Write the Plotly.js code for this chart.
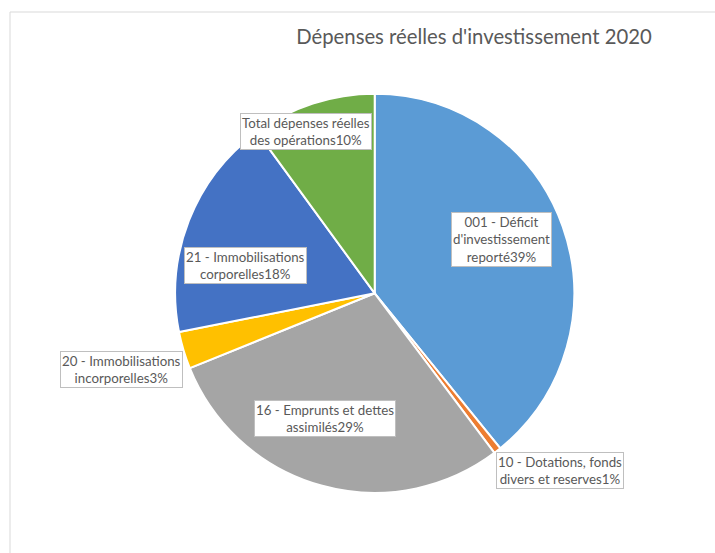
<!DOCTYPE html>
<html>
<head>
<meta charset="utf-8">
<script src="https://cdn.plot.ly/plotly-3.0.1.min.js"></script>
<style>html,body{margin:0;padding:0;background:#fff}#chart{width:715px;height:553px}</style>
</head>
<body>
<div id="chart"></div>
<script>
// ---- data ----
const categories = [
  "001 - Déficit d'investissement reporté",
  "10 - Dotations, fonds divers et reserves",
  "16 - Emprunts et dettes assimilés",
  "20 - Immobilisations incorporelles",
  "21 - Immobilisations corporelles",
  "Total dépenses réelles des opérations"
];
const values = [39, 0.6, 29, 3, 18, 10];
// wrapped label text as shown in the chart
const labelLines = [
  "001 - Déficit<br>d'investissement<br>reporté",
  "10 - Dotations, fonds<br>divers et reserves",
  "16 - Emprunts et dettes<br>assimilés",
  "20 - Immobilisations<br>incorporelles",
  "21 - Immobilisations<br>corporelles",
  "Total dépenses réelles<br>des opérations"
];

// ---- styles ----
const colors = ["#5B9BD5", "#ED7D31", "#A5A5A5", "#FFC000", "#4472C4", "#70AD47"];
const W = 715, H = 553;
const cx = 374.7, cy = 293.3, R = 199.5;
// label placement: [radius in px, xshift px, yshift px]
const labelPlace = [
  [135, 0, -9],
  [230, 44, -4],
  [130, -15, 0],
  [264, 0, 1],
  [138, -1, 22],
  [170, -16, 0]
];
const font = "Lato, 'Open Sans', sans-serif";
const textColor = "#595959";

const total = values.reduce((a, b) => a + b, 0);
let cum = 0;
const annotations = values.map((v, i) => {
  const mid = (cum + v / 2) / total * 2 * Math.PI;
  cum += v;
  const [r, sx, sy] = labelPlace[i];
  const px = cx + r * Math.sin(mid) + sx;
  const py = cy - r * Math.cos(mid) + sy;
  return {
    x: px / W, y: 1 - py / H, xref: "paper", yref: "paper",
    xanchor: "center", yanchor: "middle", showarrow: false,
    text: labelLines[i] + Math.round(v / total * 100) + "%",
    align: "center",
    font: {family: font, size: 13.3, color: textColor},
    bgcolor: "#FFFFFF", bordercolor: "#BFBFBF", borderwidth: 1, borderpad: 1
  };
});

const trace = {
  type: "pie",
  labels: categories,
  values: values,
  sort: false,
  direction: "clockwise",
  rotation: 0,
  textinfo: "none",
  hoverinfo: "label+percent",
  marker: {colors: colors, line: {color: "#FFFFFF", width: 2}},
  domain: {x: [(cx - R) / W, (cx + R) / W], y: [1 - (cy + R) / H, 1 - (cy - R) / H]},
  showlegend: false
};

const layout = {
  width: W, height: H,
  margin: {l: 0, r: 0, t: 0, b: 0},
  paper_bgcolor: "#FFFFFF",
  title: {
    text: "Dépenses réelles d'investissement 2020",
    x: 474 / W, xanchor: "center", xref: "paper",
    y: 1 - 37 / H, yanchor: "middle", yref: "container",
    font: {family: font, size: 20.3, color: textColor}
  },
  annotations: annotations,
  shapes: [{
    type: "rect", xref: "paper", yref: "paper",
    x0: 10 / W, x1: 1.05, y0: -0.05, y1: 1 - 12 / H,
    line: {color: "#D9D9D9", width: 1}, layer: "below"
  }]
};

Plotly.newPlot("chart", [trace], layout, {displayModeBar: false, staticPlot: true});
</script>
</body>
</html>
